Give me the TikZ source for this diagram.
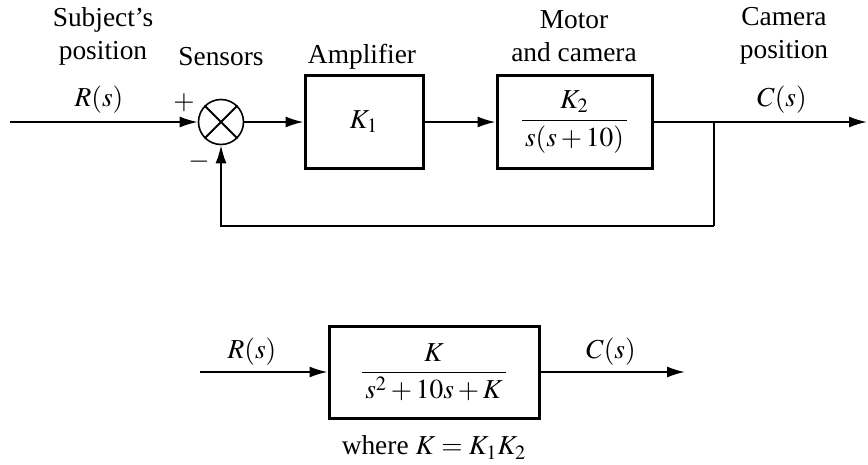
\documentclass[tikz,border=0pt]{standalone}
\usepackage{amsmath}
\usepackage{mathptmx}
\usepackage{fontspec}
\setmainfont{Liberation Serif}
\usetikzlibrary{arrows.meta,positioning}

\begin{document}
\begin{tikzpicture}[
  x=0.5pt,y=-0.5pt,
  font=\fontsize{13.7}{16.5}\selectfont,
  blk/.style={draw,line width=1.5pt,minimum height=46.5pt,inner sep=0pt},
  sumj/.style={draw,circle,line width=0.8pt,minimum size=22.5pt,inner sep=0pt},
  lbl/.style={align=center,inner sep=0pt},
  ln/.style={line width=0.9pt},
  a/.style={-{Latex[length=9pt,width=5.5pt]},line width=0.9pt}
]
  \useasboundingbox (0,0) rectangle (868,465);
  % closed loop
  \coordinate (in) at (10,122);
  \node[sumj] (sum) at (221,122) {};
  \draw[ln] (sum.north west) -- (sum.south east)
            (sum.north east) -- (sum.south west);
  \node[blk,minimum width=59pt] (amp) at (364,122) {$K_1$};
  \node[blk,minimum width=77.5pt] (motor) at (574.5,122)
    {$\dfrac{K_2}{\,s(s+10)\,}$};
  \coordinate (branch) at (714,122);
  \coordinate (fb) at (714,226);
  \coordinate (out) at (867,122);
  \draw[a] (in) -- (sum);
  \draw[a] (sum) -- (amp);
  \draw[a] (amp) -- (motor);
  \draw[a] (motor) -- (out);
  \draw[ln] (branch) -- (fb);
  \draw[a] (fb) -| (sum);
  \node[lbl] (subj) at (103,36) {Subject's\\position};
  \node[lbl] (sens) at (221,57) {Sensors};
  \node[lbl] (ampl) at (362,57) {Amplifier};
  \node[lbl] (mot) at (574,36) {Motor\\and camera};
  \node[lbl] (cam) at (784,36) {Camera\\position};
  \node[lbl] (rs) at (99,100) {$R(s)$};
  \node[lbl] (cs) at (782,100) {$C(s)$};
  \node[lbl] (plus) at (184,103) {$+$};
  \node[lbl] (minus) at (199,162) {$-$};
  % reduced form
  \coordinate (in2) at (200,372);
  \node[blk,minimum width=105pt,minimum height=46pt] (tf) at (434,372)
    {$\dfrac{K}{\,s^2+10s+K\,}$};
  \coordinate (out2) at (685,372);
  \draw[a] (in2) -- (tf);
  \draw[a] (tf) -- (out2);
  \node[lbl] (rs2) at (252,352) {$R(s)$};
  \node[lbl] (cs2) at (611,352) {$C(s)$};
  \node[lbl,below=8pt of tf] (where) {where $K = K_1K_2$};
\end{tikzpicture}
\end{document}
